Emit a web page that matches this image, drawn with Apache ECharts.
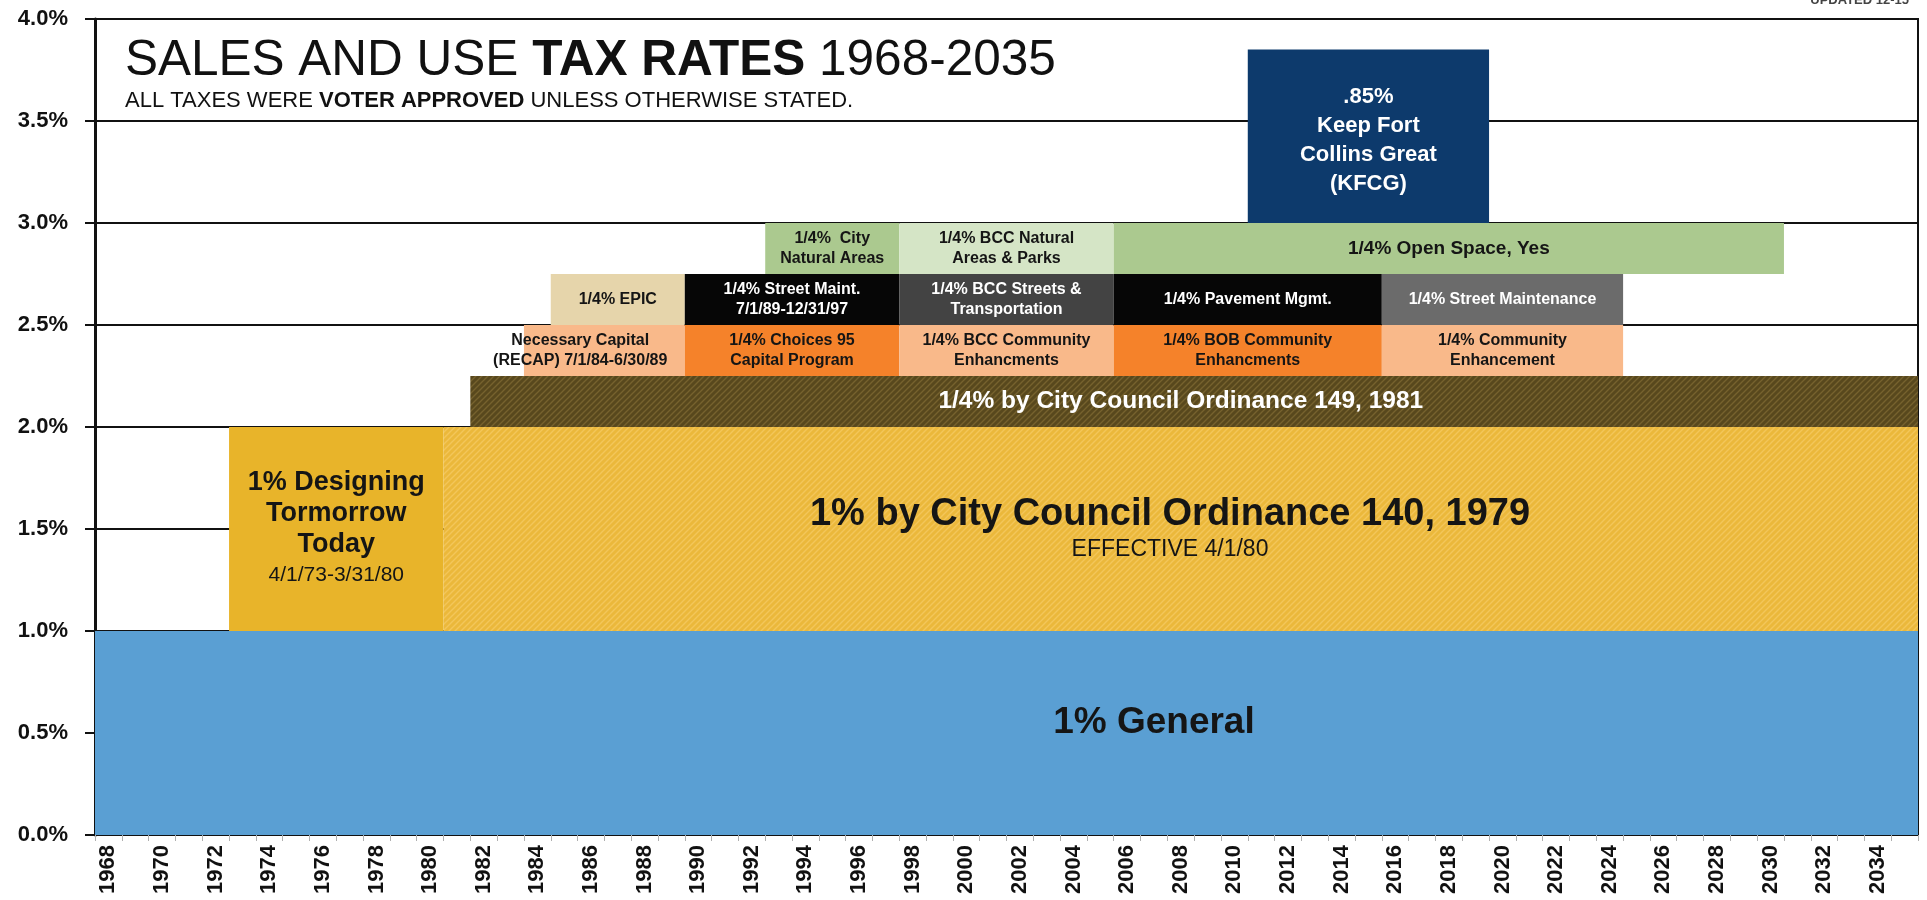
<!DOCTYPE html>
<html>
<head>
<meta charset="utf-8">
<script src="https://cdn.jsdelivr.net/npm/echarts@6/dist/echarts.min.js"></script>
<style>
  html, body { margin: 0; padding: 0; background: #fff; }
  #chart { width: 1927px; height: 900px; }
</style>
</head>
<body>
<div id="chart"></div>
<script>
// x axis categories (one per year)
const years = ['1968','1969','1970','1971','1972','1973','1974','1975','1976','1977',
  '1978','1979','1980','1981','1982','1983','1984','1985','1986','1987','1988','1989',
  '1990','1991','1992','1993','1994','1995','1996','1997','1998','1999','2000','2001',
  '2002','2003','2004','2005','2006','2007','2008','2009','2010','2011','2012','2013',
  '2014','2015','2016','2017','2018','2019','2020','2021','2022','2023','2024','2025',
  '2026','2027','2028','2029','2030','2031','2032','2033','2034','2035'];

// each tax block: start year, end year, rate stacked on top of floor
const blockNames = [
  '1% General',
  '1% Designing\nTormorrow\nToday',
  '1% by City Council Ordinance 140, 1979',
  '1/4% by City Council Ordinance 149, 1981',
  'Necessary Capital\n(RECAP) 7/1/84-6/30/89',
  '1/4% Choices 95\nCapital Program',
  '1/4% BCC Community\nEnhancments',
  '1/4% BOB Community\nEnhancments',
  '1/4% Community\nEnhancement',
  '1/4% EPIC',
  '1/4% Street Maint.\n7/1/89-12/31/97',
  '1/4% BCC Streets &\nTransportation',
  '1/4% Pavement Mgmt.',
  '1/4% Street Maintenance',
  '1/4%  City\nNatural Areas',
  '1/4% BCC Natural\nAreas & Parks',
  '1/4% Open Space, Yes',
  '.85%\nKeep Fort\nCollins Great\n(KFCG)'
];
const blockNotes = ['', '4/1/73-3/31/80', 'EFFECTIVE 4/1/80', '', '', '', '', '', '', '', '', '', '', '', '', '', '', ''];
const blockStart = [1968, 1973, 1981, 1982, 1984, 1990, 1998, 2006, 2016, 1985, 1990, 1998, 2006, 2016, 1993, 1998, 2006, 2011];
const blockEnd   = [2036, 1981, 2036, 2036, 1990, 1998, 2006, 2016, 2025, 1990, 1998, 2006, 2016, 2025, 1998, 2006, 2031, 2020];
const blockFloor = [0, 1, 1, 2, 2.25, 2.25, 2.25, 2.25, 2.25, 2.5, 2.5, 2.5, 2.5, 2.5, 2.75, 2.75, 2.75, 3];
const blockRate  = [1, 1, 1, 0.25, 0.25, 0.25, 0.25, 0.25, 0.25, 0.25, 0.25, 0.25, 0.25, 0.25, 0.25, 0.25, 0.25, 0.85];
// where the label sits when it is not centred in its block (year, rate)
const labelYear = [2007.5, null, 2008.1, 2008.5, 1986.1, null, null, null, null, null, null, null, null, null, null, null, null, null];
const labelRate = [0.55, null, null, null, null, null, null, null, null, null, null, null, null, null, null, null, null, 3.405];

function stripes(base, line) {
  const c = document.createElement('canvas');
  c.width = 6; c.height = 6;
  const ctx = c.getContext('2d');
  ctx.fillStyle = base;
  ctx.fillRect(0, 0, 6, 6);
  ctx.strokeStyle = line;
  ctx.lineWidth = 1.4;
  ctx.beginPath();
  ctx.moveTo(-3, 3); ctx.lineTo(3, -3);
  ctx.moveTo(0, 6); ctx.lineTo(6, 0);
  ctx.moveTo(3, 9); ctx.lineTo(9, 3);
  ctx.stroke();
  return { image: c, repeat: 'repeat' };
}

const lightOrange = '#f9b98a', darkOrange = '#f5822a';
const blockFill = [
  '#5a9fd3', '#e8b42a', stripes('#ebb83b', '#f3c65a'), stripes('#58481d', '#76622e'),
  lightOrange, darkOrange, lightOrange, darkOrange, lightOrange,
  '#e6d5ab', '#060606', '#434343', '#060606', '#6b6b6b',
  '#abc98f', '#d5e5c6', '#abc98f', '#0d3a6c'
];
const DARK = '#151515', WHITE = '#ffffff';
const labelColor = [DARK, DARK, DARK, WHITE, DARK, DARK, DARK, DARK, DARK,
  DARK, WHITE, WHITE, WHITE, WHITE, DARK, DARK, DARK, WHITE];
const labelKind = ['g', 'd', 'o', 'm', 's', 's', 's', 's', 's', 's', 's', 's', 's', 's', 's', 's', 'w', 'k'];
const noteKind = ['', 'dd', 'e', '', '', '', '', '', '', '', '', '', '', '', '', '', '', ''];

const FONT = '"Liberation Sans", Arial, sans-serif';
const rt = (size, bold, lh) => ({ fontSize: size, fontWeight: bold ? 'bold' : 'normal', lineHeight: lh, fontFamily: FONT });
const labelRich = {
  g: rt(37, true, 44),
  o: rt(38, true, 42),
  e: rt(23, false, 28),
  d: rt(27, true, 31),
  dd: rt(21, false, 30),
  m: rt(24.5, true, 28),
  s: rt(16, true, 20),
  w: rt(19, true, 22),
  k: rt(22, true, 29)
};

function labelText(i) {
  let t = blockNames[i].split('\n').map(l => '{' + labelKind[i] + '|' + l + '}').join('\n');
  if (blockNotes[i]) t += '\n{' + noteKind[i] + '|' + blockNotes[i] + '}';
  return t;
}

const blockData = blockNames.map((n, i) => [blockStart[i], blockEnd[i], blockFloor[i], blockFloor[i] + blockRate[i], i]);

function renderBlock(params, api) {
  const i = api.value(4);
  const p0 = api.coord([api.value(0), api.value(3)]);
  const p1 = api.coord([api.value(1), api.value(2)]);
  const lx = labelYear[i] != null ? labelYear[i] : (api.value(0) + api.value(1)) / 2;
  const ly = labelRate[i] != null ? labelRate[i] : (api.value(2) + api.value(3)) / 2;
  const lp = api.coord([lx, ly]);
  return {
    type: 'group',
    children: [
      {
        type: 'rect',
        shape: { x: p0[0], y: p0[1], width: p1[0] - p0[0], height: p1[1] - p0[1] },
        style: { fill: blockFill[i] }
      },
      {
        type: 'text',
        x: lp[0], y: lp[1],
        style: {
          text: labelText(i),
          fill: labelColor[i],
          align: 'center',
          verticalAlign: 'middle',
          rich: labelRich
        }
      }
    ]
  };
}

const chart = echarts.init(document.getElementById('chart'));
const option = {
  animation: false,
  backgroundColor: '#ffffff',
  title: {
    left: 120,
    top: 31,
    itemGap: 4,
    text: '{n|SALES AND USE }{b|TAX RATES}{n| 1968-2035}',
    textStyle: {
      fontWeight: 'normal',
      rich: {
        n: { fontSize: 49.5, fontFamily: FONT, fontWeight: 'normal', color: '#111' },
        b: { fontSize: 49.5, fontFamily: FONT, fontWeight: 'bold', color: '#111' }
      }
    },
    subtext: '{n|ALL TAXES WERE }{b|VOTER APPROVED}{n| UNLESS OTHERWISE STATED.}',
    subtextStyle: {
      rich: {
        n: { fontSize: 22, fontFamily: FONT, fontWeight: 'normal', color: '#111' },
        b: { fontSize: 22, fontFamily: FONT, fontWeight: 'bold', color: '#111' }
      }
    }
  },
  graphic: [{
    type: 'text',
    right: 18,
    top: -6,
    style: { text: 'UPDATED 12-15', fill: '#444', font: 'bold 13px ' + FONT }
  }],
  grid: {
    left: 95,
    right: 9,
    top: 19,
    bottom: 65,
    show: true,
    borderColor: '#111',
    borderWidth: 2,
    backgroundColor: 'transparent'
  },
  xAxis: [
    { type: 'value', min: 1968, max: 2036, show: false },
    {
      type: 'category',
      data: years,
      position: 'bottom',
      boundaryGap: true,
      axisLine: { show: true, lineStyle: { color: '#111', width: 2 } },
      axisTick: { show: true, interval: 0, length: 6, lineStyle: { color: '#b0b0b0' } },
      axisLabel: {
        interval: 1,
        rotate: 90,
        margin: 10,
        color: '#111',
        fontSize: 22,
        fontWeight: 'bold',
        fontFamily: FONT
      },
      splitLine: { show: false }
    }
  ],
  yAxis: {
    type: 'value',
    min: 0,
    max: 4,
    interval: 0.5,
    axisLine: { show: true, lineStyle: { color: '#111', width: 3 } },
    axisTick: { show: true, length: 10, lineStyle: { color: '#111', width: 2 } },
    axisLabel: {
      formatter: v => v.toFixed(1) + '%',
      margin: 27,
      color: '#111',
      fontSize: 22,
      fontWeight: 'bold',
      fontFamily: FONT
    },
    splitLine: { show: true, lineStyle: { color: '#111', width: 2 } }
  },
  series: [{
    type: 'custom',
    xAxisIndex: 0,
    yAxisIndex: 0,
    renderItem: renderBlock,
    encode: { x: [0, 1], y: [2, 3] },
    data: blockData
  }]
};
chart.setOption(option);
</script>
</body>
</html>
